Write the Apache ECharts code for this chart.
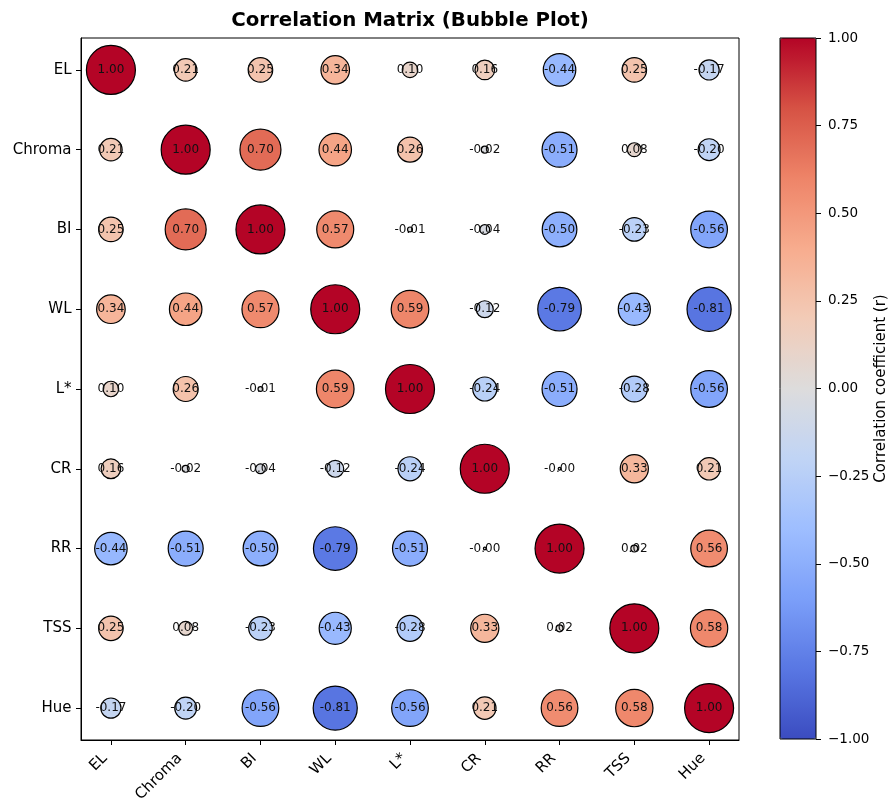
<!DOCTYPE html>
<html>
<head>
<meta charset="utf-8">
<script src="https://cdn.jsdelivr.net/npm/echarts@6/dist/echarts.min.js"></script>
<style>
  html, body { margin: 0; padding: 0; background: #fff; }
  #chart { width: 889px; height: 799px; }
</style>
</head>
<body>
<div id="chart"></div>
<script>
// Variable names (same order on both axes)
const variables = ['EL', 'Chroma', 'BI', 'WL', 'L*', 'CR', 'RR', 'TSS', 'Hue'];

// Correlation matrix rows
const rowEL     = [ 1.00,  0.21,  0.25,  0.34,  0.10,  0.16,  -0.44,  0.25, -0.17];
const rowChroma = [ 0.21,  1.00,  0.70,  0.44,  0.26, -0.02,  -0.51,  0.08, -0.20];
const rowBI     = [ 0.25,  0.70,  1.00,  0.57, -0.01, -0.04,  -0.50, -0.23, -0.56];
const rowWL     = [ 0.34,  0.44,  0.57,  1.00,  0.59, -0.12,  -0.79, -0.43, -0.81];
const rowLstar  = [ 0.10,  0.26, -0.01,  0.59,  1.00, -0.24,  -0.51, -0.28, -0.56];
const rowCR     = [ 0.16, -0.02, -0.04, -0.12, -0.24,  1.00, -0.003,  0.33,  0.21];
const rowRR     = [-0.44, -0.51, -0.50, -0.79, -0.51, -0.003, 1.00,  0.02,  0.56];
const rowTSS    = [ 0.25,  0.08, -0.23, -0.43, -0.28,  0.33,  0.02,  1.00,  0.58];
const rowHue    = [-0.17, -0.20, -0.56, -0.81, -0.56,  0.21,  0.56,  0.58,  1.00];

const rows = [rowEL, rowChroma, rowBI, rowWL, rowLstar, rowCR, rowRR, rowTSS, rowHue];

// Colour bar tick values
const colorbarTicks = [-1, -0.75, -0.5, -0.25, 0, 0.25, 0.5, 0.75, 1];

// Diverging blue-white-red palette (coolwarm)
const coolwarm = ['#3b4cc0', '#5977e3', '#7b9ff9', '#9ebeff', '#c0d4f5', '#dddcdc',
                  '#f2cbb7', '#f7ac8e', '#ee8468', '#d65244', '#b40426'];

const positions = variables.map((_, i) => i);

// [column, row, r]
const bubbles = [];
rows.forEach((row, i) => row.forEach((r, j) => bubbles.push([j, i, r])));

const fmtCell = v => (v < 0 ? '-' : '') + Math.abs(v).toFixed(2);
const fmtBar = v => (v < 0 ? '\u2212' : '') + Math.abs(v).toFixed(2);

const FONT = 'DejaVu Sans';

const chart = echarts.init(document.getElementById('chart'), null, { renderer: 'canvas' });

chart.setOption({
  backgroundColor: '#fff',
  animation: false,
  textStyle: { fontFamily: FONT },
  title: {
    text: 'Correlation Matrix (Bubble Plot)',
    left: 410,
    top: 11,
    padding: 0,
    textAlign: 'center',
    textStyle: { fontFamily: FONT, fontWeight: 'bold', fontSize: 19.8, color: '#000' }
  },
  grid: [
    { left: 81, top: 38, width: 658, height: 702, show: true, borderColor: '#000', borderWidth: 1,
      backgroundColor: 'transparent', containLabel: false, outerBoundsMode: 'none' },
    { left: 780, top: 38, width: 36, height: 701, show: true, borderColor: '#000', borderWidth: 1,
      backgroundColor: 'transparent', z: 10, containLabel: false, outerBoundsMode: 'none' }
  ],
  xAxis: [
    {
      type: 'value', gridIndex: 0, min: -0.4, max: 8.4,
      splitLine: { show: false },
      axisLine: { show: true, onZero: false, lineStyle: { color: '#000', width: 1 } },
      axisTick: { show: true, customValues: positions, length: 5, lineStyle: { color: '#000' } },
      axisLabel: {
        show: true, customValues: positions, rotate: 45, margin: 10,
        padding: [0, 8.5, 0, 0],
        fontFamily: FONT, fontSize: 15, color: '#000',
        formatter: v => variables[Math.round(v)]
      }
    },
    { type: 'value', gridIndex: 1, min: 0, max: 1, show: false }
  ],
  yAxis: [
    {
      type: 'value', gridIndex: 0, min: -0.4, max: 8.4, inverse: true,
      splitLine: { show: false },
      axisLine: { show: true, onZero: false, lineStyle: { color: '#000', width: 1 } },
      axisTick: { show: true, customValues: positions, length: 5, lineStyle: { color: '#000' } },
      axisLabel: {
        show: true, customValues: positions, margin: 9.5,
        fontFamily: FONT, fontSize: 15, color: '#000',
        formatter: v => variables[Math.round(v)]
      }
    },
    {
      type: 'value', gridIndex: 1, position: 'right', min: -1, max: 1, interval: 0.25,
      splitLine: { show: false },
      axisLine: { show: false, onZero: false },
      axisTick: { show: true, customValues: colorbarTicks, length: 5, lineStyle: { color: '#000' } },
      axisLabel: {
        show: true, customValues: colorbarTicks, margin: 12,
        fontFamily: FONT, fontSize: 13.5, color: '#000',
        formatter: v => fmtBar(v)
      },
      name: 'Correlation coefficient (r)',
      nameLocation: 'middle',
      nameRotate: 90,
      nameGap: 57,
      nameTextStyle: { fontFamily: FONT, fontSize: 15, color: '#000' }
    }
  ],
  visualMap: {
    type: 'continuous',
    min: -1, max: 1,
    dimension: 2,
    seriesIndex: 0,
    calculable: false,
    hoverLink: false,
    left: 780, top: 38,
    padding: 0,
    itemWidth: 36, itemHeight: 701,
    text: null,
    showLabel: false,
    inRange: { color: coolwarm }
  },
  series: [{
    type: 'scatter',
    xAxisIndex: 0, yAxisIndex: 0,
    data: bubbles,
    symbol: 'circle',
    symbolSize: val => 49 * Math.sqrt(Math.abs(val[2])),
    itemStyle: { borderColor: '#000', borderWidth: 1.2, opacity: 1 },
    label: {
      show: true, position: 'inside',
      fontFamily: FONT, fontSize: 12, color: '#111',
      formatter: p => fmtCell(p.value[2])
    },
    labelLayout: { hideOverlap: false },
    emphasis: { disabled: true },
    silent: true
  }]
});
</script>
</body>
</html>
